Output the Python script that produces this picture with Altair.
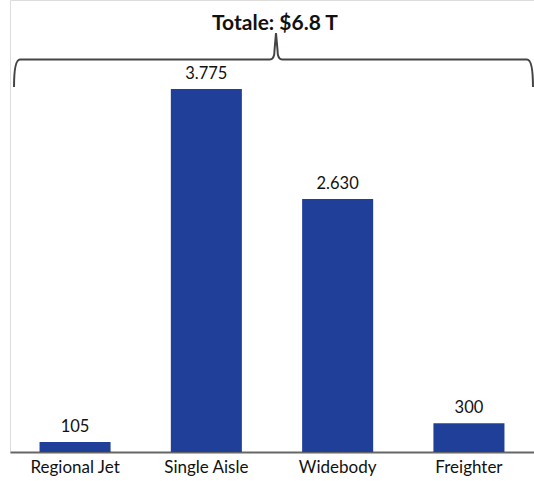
import altair as alt
import pandas as pd

categories = ["Regional Jet", "Single Aisle", "Widebody", "Freighter"]
values = [105, 3775, 2630, 300]
value_labels = ["105", "3.775", "2.630", "300"]
total_label = "Totale: $6.8 T"

FONT = "Lato"
BAR_COLOR = "#203F98"

df = pd.DataFrame({"category": categories, "value": values, "label": value_labels})

x_enc = alt.X(
    "category:N",
    sort=categories,
    scale=alt.Scale(paddingInner=0.459, paddingOuter=0.225),
    axis=alt.Axis(
        title=None, labelAngle=0, ticks=False, domainColor="#666666", domainWidth=2,
        labelFont=FONT, labelFontSize=17, labelColor="#111111", labelPadding=7,
    ),
)
y_enc = alt.Y("value:Q", scale=alt.Scale(domain=[0, 4700], nice=False, zero=True), axis=None)

base = alt.Chart(df).encode(x=x_enc, y=y_enc)
bars = base.mark_bar(color=BAR_COLOR)
texts = base.mark_text(baseline="alphabetic", dy=-10, font=FONT, fontSize=16.5, color="#111111").encode(
    text="label:N"
)

brace_path = (
    "M -0.998 0.106 Q -0.998 0 -0.975 0 L -0.0135 0 Q 0.004 0 0.004 -0.0365 "
    "L 0.0096 -0.102 L 0.0154 -0.0365 Q 0.0154 0 0.033 0 L 0.975 0 Q 0.998 0 0.998 0.106"
)
ann_df = pd.DataFrame({"t": [total_label]})
brace = alt.Chart(ann_df).mark_point(
    shape=brace_path, size=270400, filled=False, stroke="#444444", strokeWidth=2, opacity=1
).encode(x=alt.value(263.5), y=alt.value(59.5))
title = alt.Chart(ann_df).mark_text(
    font=FONT, fontSize=21, fontWeight="bold", color="#111111", baseline="alphabetic", align="center"
).encode(x=alt.value(265), y=alt.value(30), text="t:N")

chart = alt.layer(bars, texts, brace, title).properties(
    width=524, height=452, autosize="none",
    padding={"left": 10, "top": 0, "right": 0, "bottom": 29},
).configure_view(stroke=None).configure(background="white")

chart.save("out.html", embed_options={"renderer": "svg", "actions": False})
